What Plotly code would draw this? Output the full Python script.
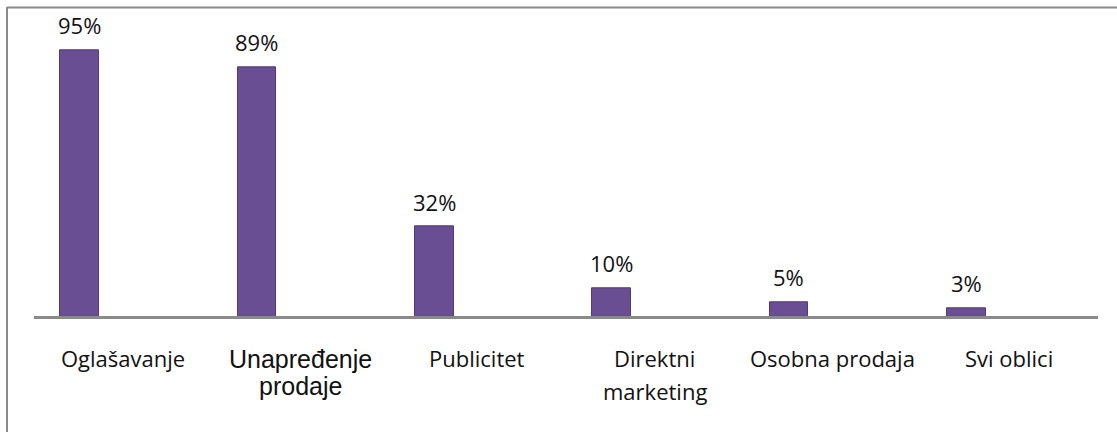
import plotly.graph_objects as go

categories = ["Oglašavanje", "Unapređenje prodaje", "Publicitet", "Direktni marketing", "Osobna prodaja", "Svi oblici"]
tick_labels = ["Oglašavanje", "Unapređenje<br>prodaje", "Publicitet", "Direktni<br>marketing", "Osobna prodaja", "Svi oblici"]
values = [95, 89, 32, 10, 5, 3]
value_labels = ["95%", "89%", "32%", "10%", "5%", "3%"]

W, H = 1117, 432
def px(x):
    return x / W
def py(y):
    return 1 - y / H

BAR = "#6a4e94"
EDGE = "#513a78"
GREY = "#8a8a8a"
TXT = "#111111"

X0, X1 = 34, 1098              # plot area (px)
CAT_PX = (X1 - X0) / len(categories)
BAR_W = 0.218                  # in category units
BAR_SHIFT = -0.243             # bar centre offset from category centre

fig = go.Figure()
fig.add_trace(go.Bar(
    x=categories, y=values, width=BAR_W, offset=BAR_SHIFT - BAR_W / 2,
    marker=dict(color=BAR, line=dict(color=EDGE, width=1)),
    hoverinfo="skip", showlegend=False,
))

annotations = []
for c, v, t in zip(categories, values, value_labels):
    annotations.append(dict(x=c, y=v, xref="x", yref="y", text=t, showarrow=False,
                            xshift=BAR_SHIFT * CAT_PX, yanchor="bottom", yshift=8,
                            font=dict(family="Open Sans", size=22, color=TXT)))

for i, (c, t) in enumerate(zip(categories, tick_labels)):
    if i == 1:
        f = dict(family="Liberation Sans", size=25, color=TXT)
        gap = 27
    else:
        f = dict(family="Open Sans", size=22, color=TXT)
        gap = 33
    for k, line in enumerate(t.split("<br>")):
        annotations.append(dict(x=c, y=py(369 + k * gap), xref="x", yref="paper", text=line,
                                showarrow=False, yanchor="bottom", yshift=-6, font=f))

shapes = [
    dict(type="line", xref="paper", yref="paper", x0=px(7), x1=px(7), y0=py(7), y1=0,
         line=dict(color=GREY, width=2)),
    dict(type="line", xref="paper", yref="paper", x0=px(7), x1=1, y0=py(7.5), y1=py(7.5),
         line=dict(color=GREY, width=2)),
]

fig.update_layout(
    width=W, height=H,
    margin=dict(l=0, r=0, t=0, b=0),
    paper_bgcolor="white", plot_bgcolor="white",
    xaxis=dict(domain=[px(X0), px(X1)], range=[-0.5, 5.5], type="category",
               categoryorder="array", categoryarray=categories,
               showticklabels=False, showgrid=False, zeroline=False,
               showline=True, linecolor=GREY, linewidth=2.5, ticks=""),
    yaxis=dict(domain=[py(316.3), py(36.3)], range=[0, 100], showticklabels=False,
               showgrid=False, zeroline=False, showline=False),
    annotations=annotations,
    shapes=shapes,
    bargap=0,
)

fig.write_html("out.html", config={"displayModeBar": False},
               post_script="document.body.style.margin='0';document.body.style.padding='0';")
